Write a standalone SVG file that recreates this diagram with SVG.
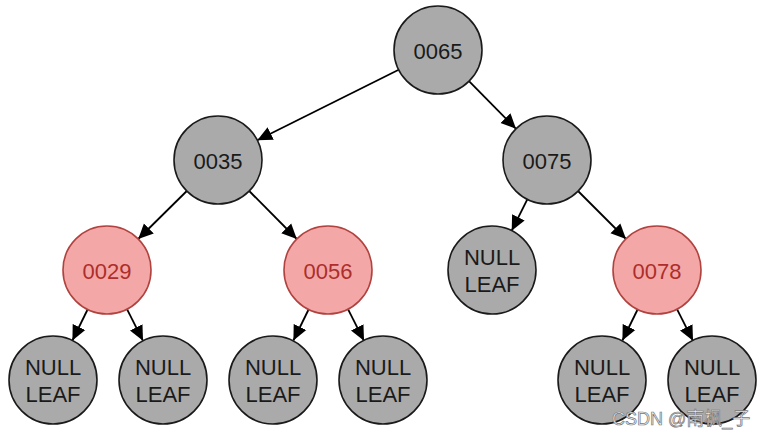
<svg xmlns="http://www.w3.org/2000/svg" width="768" height="436" viewBox="0 0 768 436">
<defs>
<marker id="arr" markerUnits="userSpaceOnUse" markerWidth="16" markerHeight="16" viewBox="0 0 16 16" refX="15" refY="8" orient="auto">
<path d="M0,1 L15,8 L0,15 Z" fill="#000"/>
</marker>
</defs>
<style>
.n circle{fill:#aaaaaa;stroke:#1a1a1a;stroke-width:1.6}
.r circle{fill:#f3a8a7;stroke:#b0423f;stroke-width:1.6}
text{font-family:"Liberation Sans",Arial,sans-serif;font-size:22px;text-anchor:middle}
.n text{fill:#1a1a1a}
.r text{fill:#ad2e2b}
.e line{stroke:#000;stroke-width:1.8;marker-end:url(#arr)}
.wm{font-family:"Liberation Sans","Noto Sans CJK SC",sans-serif;font-size:18px;fill:#f4f4f4;stroke:#777;stroke-width:0.7;text-anchor:start}
</style>
<g id="edges" class="e">
<line x1="398.7" y1="69.7" x2="257.3" y2="140.3"/>
<line x1="469" y1="81.2" x2="516" y2="128.8"/>
<line x1="186.8" y1="191" x2="138.2" y2="239"/>
<line x1="249.2" y1="191" x2="296.8" y2="239"/>
<line x1="527.3" y1="199.3" x2="511.7" y2="230.7"/>
<line x1="578" y1="191" x2="626" y2="239"/>
<line x1="87.6" y1="309.5" x2="72.4" y2="340.5"/>
<line x1="127" y1="309.2" x2="143" y2="340.8"/>
<line x1="308.6" y1="309.5" x2="293.4" y2="340.5"/>
<line x1="348" y1="309.2" x2="364" y2="340.8"/>
<line x1="637.6" y1="309.5" x2="622.4" y2="340.5"/>
<line x1="677" y1="309.2" x2="693" y2="340.8"/>
</g>
<g id="n0065" class="n"><circle cx="438" cy="50" r="44"/><text x="438" y="58.5">0065</text></g>
<g id="n0035" class="n"><circle cx="218" cy="160" r="44"/><text x="218" y="168.5">0035</text></g>
<g id="n0075" class="n"><circle cx="547" cy="160" r="44"/><text x="547" y="168.5">0075</text></g>
<g id="n0029" class="r"><circle cx="107" cy="270" r="44"/><text x="107" y="278.5">0029</text></g>
<g id="n0056" class="r"><circle cx="328" cy="270" r="44"/><text x="328" y="278.5">0056</text></g>
<g id="leaf75" class="n"><circle cx="492" cy="270" r="44"/><text x="492" y="264.5">NULL</text><text x="492" y="291.5">LEAF</text></g>
<g id="n0078" class="r"><circle cx="657" cy="270" r="44"/><text x="657" y="278.5">0078</text></g>
<g id="leaf29a" class="n"><circle cx="53" cy="380" r="44"/><text x="53" y="374.5">NULL</text><text x="53" y="401.5">LEAF</text></g>
<g id="leaf29b" class="n"><circle cx="163" cy="380" r="44"/><text x="163" y="374.5">NULL</text><text x="163" y="401.5">LEAF</text></g>
<g id="leaf56a" class="n"><circle cx="273" cy="380" r="44"/><text x="273" y="374.5">NULL</text><text x="273" y="401.5">LEAF</text></g>
<g id="leaf56b" class="n"><circle cx="383" cy="380" r="44"/><text x="383" y="374.5">NULL</text><text x="383" y="401.5">LEAF</text></g>
<g id="leaf78a" class="n"><circle cx="602" cy="380" r="44"/><text x="602" y="374.5">NULL</text><text x="602" y="401.5">LEAF</text></g>
<g id="leaf78b" class="n"><circle cx="712" cy="380" r="44"/><text x="712" y="374.5">NULL</text><text x="712" y="401.5">LEAF</text></g>
<text class="wm" x="612" y="425">CSDN @南枫_子</text>
</svg>
